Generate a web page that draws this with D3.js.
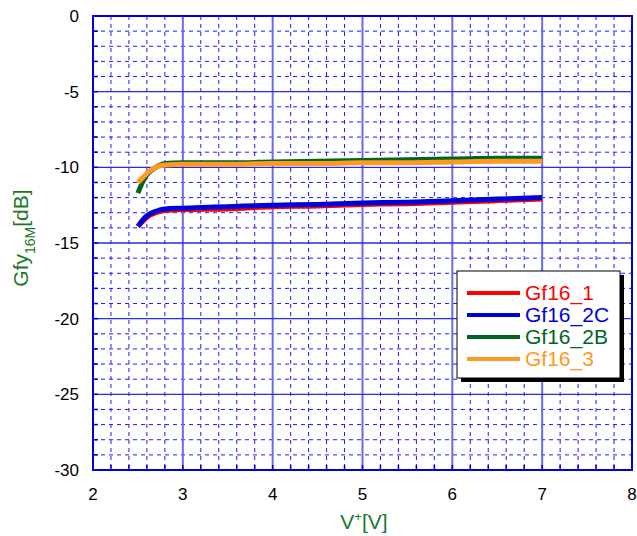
<!DOCTYPE html>
<html>
<head>
<meta charset="utf-8">
<script src="https://d3js.org/d3.v7.min.js"></script>
<style>
  body { margin: 0; background: #fff; }
  svg { display: block; font-family: "Liberation Sans", Arial, sans-serif; }
</style>
</head>
<body>
<div id="chart"></div>
<script>
// values
const xTicks = [2, 3, 4, 5, 6, 7, 8];
const yTicks = [0, -5, -10, -15, -20, -25, -30];

const vPlus = [2.5, 2.55, 2.6, 2.7, 2.8, 3.0, 3.5, 4.0, 4.5, 5.0, 5.5, 6.0, 6.5, 7.0];
const gf16_1 = [-13.9, -13.6, -13.3, -13.0, -12.85, -12.8, -12.75, -12.6, -12.55, -12.45, -12.4, -12.3, -12.2, -12.1];
const gf16_2C = [-13.9, -13.5, -13.2, -12.9, -12.75, -12.7, -12.6, -12.5, -12.45, -12.35, -12.3, -12.2, -12.1, -12.0];
const gf16_2B = [-11.7, -11.0, -10.5, -10.0, -9.75, -9.7, -9.7, -9.65, -9.6, -9.55, -9.5, -9.45, -9.4, -9.4];
const gf16_3 = [-11.0, -10.7, -10.4, -10.0, -9.85, -9.8, -9.8, -9.75, -9.75, -9.7, -9.7, -9.65, -9.6, -9.6];

const seriesNames = ["Gf16_1", "Gf16_2C", "Gf16_2B", "Gf16_3"];
const seriesValues = [gf16_1, gf16_2C, gf16_2B, gf16_3];
const seriesColors = ["#ff0000", "#0000dd", "#006622", "#ff9922"];

const svgWidth = 637, svgHeight = 536;
const margin = { top: 16, right: 5, bottom: 66, left: 93 };
const width = 632 - margin.left;
const height = 470 - margin.top;

const svg = d3.select("#chart").append("svg")
  .attr("width", svgWidth)
  .attr("height", svgHeight);

const chart = svg.append("g")
  .attr("transform", `translate(${margin.left},${margin.top})`);

const x = d3.scaleLinear().domain([2, 8]).range([0, width]);
const y = d3.scaleLinear().domain([-30, 0]).range([height, 0]);

// minor grid (dashed)
const xMinor = d3.range(2, 8.001, 0.2).filter(v => Math.abs(v - Math.round(v)) > 0.01);
const yMinor = d3.range(-30, 0.001, 1).filter(v => v % 5 !== 0);

chart.append("g").selectAll("line")
  .data(xMinor).enter().append("line")
  .attr("x1", d => x(d)).attr("x2", d => x(d))
  .attr("y1", 0).attr("y2", height)
  .attr("stroke", "#1a1aff").attr("stroke-width", 1)
  .attr("stroke-dasharray", "4,4");

chart.append("g").selectAll("line")
  .data(yMinor).enter().append("line")
  .attr("y1", d => y(d)).attr("y2", d => y(d))
  .attr("x1", 0).attr("x2", width)
  .attr("stroke", "#1a1aff").attr("stroke-width", 1)
  .attr("stroke-dasharray", "4,4");

// major grid (solid)
chart.append("g").selectAll("line")
  .data(xTicks.slice(1, -1)).enter().append("line")
  .attr("x1", d => x(d)).attr("x2", d => x(d))
  .attr("y1", 0).attr("y2", height)
  .attr("stroke", "#6a6ae8").attr("stroke-width", 2);

chart.append("g").selectAll("line")
  .data(yTicks.slice(1, -1)).enter().append("line")
  .attr("y1", d => y(d)).attr("y2", d => y(d))
  .attr("x1", 0).attr("x2", width)
  .attr("stroke", "#2a2ae0").attr("stroke-width", 1.3);

// frame
chart.append("rect")
  .attr("width", width).attr("height", height)
  .attr("fill", "none").attr("stroke", "#0000dd").attr("stroke-width", 2);

// small inner ticks on left and bottom
chart.append("g").selectAll("line")
  .data(d3.range(-30, 0.001, 1)).enter().append("line")
  .attr("x1", 0).attr("x2", 5)
  .attr("y1", d => y(d)).attr("y2", d => y(d))
  .attr("stroke", "#0000dd").attr("stroke-width", 1.5);

chart.append("g").selectAll("line")
  .data(d3.range(2, 8.001, 0.2)).enter().append("line")
  .attr("y1", height).attr("y2", height - 5)
  .attr("x1", d => x(d)).attr("x2", d => x(d))
  .attr("stroke", "#0000dd").attr("stroke-width", 1.5);

// tick labels
chart.append("g").selectAll("text")
  .data(yTicks).enter().append("text")
  .attr("x", -14).attr("y", d => y(d) + 6)
  .attr("text-anchor", "end")
  .style("font-size", "17px")
  .text(d => d);

chart.append("g").selectAll("text")
  .data(xTicks).enter().append("text")
  .attr("x", d => x(d)).attr("y", height + 30)
  .attr("text-anchor", "middle")
  .style("font-size", "17px")
  .text(d => d);

// data lines
const line = d3.line()
  .x((d, i) => x(vPlus[i]))
  .y(d => y(d))
  .curve(d3.curveMonotoneX);

seriesValues.forEach((vals, k) => {
  chart.append("path")
    .datum(vals)
    .attr("fill", "none")
    .attr("stroke", seriesColors[k])
    .attr("stroke-width", 5)
    .attr("stroke-linecap", "butt")
    .attr("d", line);
});

// axis titles
const xTitle = svg.append("text")
  .attr("x", 364).attr("y", 529)
  .attr("text-anchor", "middle")
  .style("font-size", "21px")
  .attr("fill", "#1a7a2a");
xTitle.append("tspan").text("V");
xTitle.append("tspan").attr("dy", -8).style("font-size", "13px").text("+");
xTitle.append("tspan").attr("dy", 8).text("[V]");

const yTitle = svg.append("text")
  .attr("transform", "translate(28,238) rotate(-90)")
  .attr("text-anchor", "middle")
  .style("font-size", "21px")
  .attr("fill", "#1a7a2a");
yTitle.append("tspan").text("Gfy");
yTitle.append("tspan").attr("dy", 7).style("font-size", "14px").text("16M");
yTitle.append("tspan").attr("dy", -7).text("[dB]");

// legend
const legend = svg.append("g").attr("transform", "translate(457,271)");
legend.append("rect")
  .attr("x", 4).attr("y", 4).attr("width", 163).attr("height", 107)
  .attr("fill", "#000");
legend.append("rect")
  .attr("width", 163).attr("height", 107)
  .attr("fill", "#fff").attr("stroke", "#000").attr("stroke-width", 1);

seriesNames.forEach((name, i) => {
  const row = legend.append("g").attr("transform", `translate(0, ${22 + i * 22})`);
  row.append("line")
    .attr("x1", 10).attr("x2", 63)
    .attr("stroke", seriesColors[i]).attr("stroke-width", 4);
  row.append("text")
    .attr("x", 68).attr("y", 7)
    .style("font-size", "21px")
    .attr("fill", seriesColors[i])
    .text(name);
});
</script>
</body>
</html>
